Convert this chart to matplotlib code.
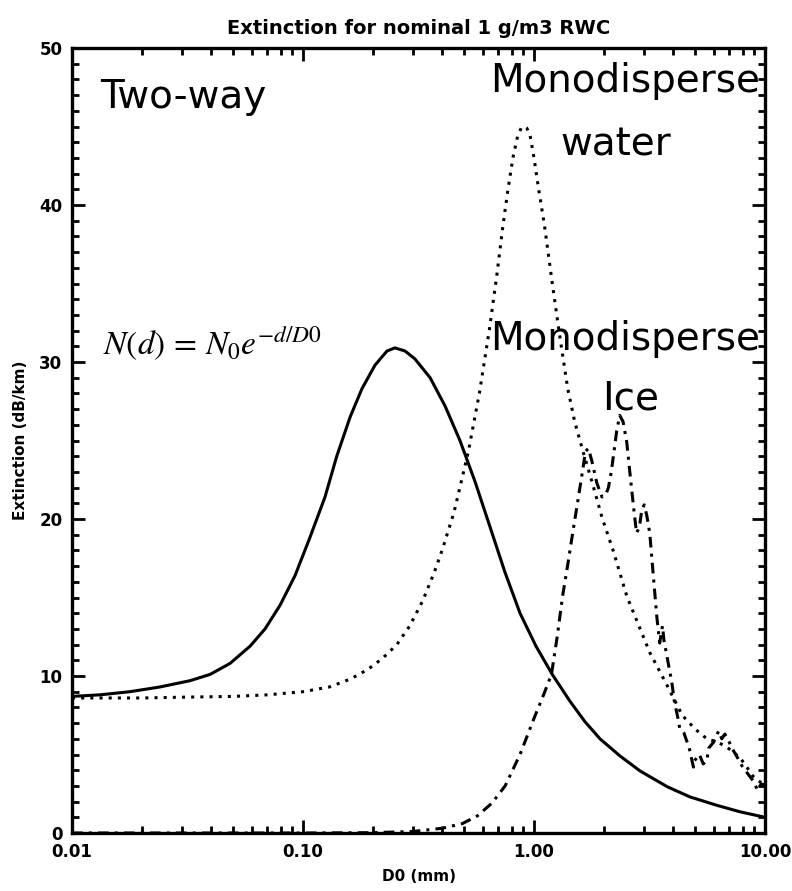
import matplotlib
matplotlib.use("Agg")
import matplotlib.pyplot as plt
from matplotlib.ticker import FixedLocator, NullFormatter, MultipleLocator

# two-way extinction for an exponential drop size distribution
d0_twoway = [0.01, 0.0132, 0.0178, 0.024, 0.0324, 0.0396, 0.0483, 0.059, 0.0685, 0.0795,
             0.0924, 0.107, 0.1245, 0.14, 0.16, 0.18, 0.205, 0.231, 0.25, 0.2765,
             0.305, 0.355, 0.412, 0.478, 0.555, 0.645, 0.749, 0.87, 1.02, 1.2,
             1.43, 1.66, 1.93, 2.36, 2.88, 3.77, 4.73, 6.2, 7.8, 10.0]
ext_twoway = [8.7, 8.8, 9.0, 9.3, 9.7, 10.1, 10.8, 11.9, 13.0, 14.5,
              16.4, 18.8, 21.4, 24.0, 26.5, 28.3, 29.8, 30.7, 30.9, 30.7,
              30.2, 29.0, 27.2, 25.0, 22.4, 19.5, 16.6, 14.0, 11.9, 10.1,
              8.4, 7.1, 6.0, 4.9, 3.95, 2.95, 2.3, 1.76, 1.35, 1.0]

# monodisperse water drops
d0_water = [0.01, 0.02, 0.03, 0.05, 0.07, 0.1, 0.13, 0.16, 0.19, 0.22,
            0.255, 0.29, 0.33, 0.37, 0.4, 0.45, 0.52, 0.58, 0.64, 0.69,
            0.734, 0.77, 0.81, 0.85, 0.88, 0.906, 0.93, 0.96, 1.0, 1.05,
            1.11, 1.2, 1.3, 1.4, 1.5, 1.63, 1.78, 1.97, 2.2, 2.52,
            2.88, 3.17, 3.5, 3.77, 4.38, 5.0, 5.6, 6.2, 6.8, 7.8,
            8.9, 9.8, 10.0]
ext_water = [8.6, 8.6, 8.65, 8.7, 8.8, 9.0, 9.3, 9.8, 10.4, 11.1,
             12.0, 13.2, 14.8, 16.6, 18.0, 20.4, 24.3, 28.0, 32.0, 35.5,
             38.7, 40.9, 43.0, 44.4, 44.9, 45.0, 44.9, 44.5, 43.0, 40.9,
             38.7, 35.0, 31.4, 28.3, 26.2, 24.3, 22.4, 20.1, 18.0, 15.1,
             13.0, 11.5, 10.3, 9.4, 7.5, 6.6, 6.0, 5.8, 5.5, 4.8,
             3.6, 3.1, 3.0]

# monodisperse ice spheres
d0_ice = [0.01, 0.1, 0.2, 0.3, 0.4, 0.49, 0.57, 0.657, 0.75, 0.87,
          1.0, 1.1, 1.19, 1.26, 1.33, 1.4, 1.47, 1.55, 1.62, 1.67,
          1.72, 1.78, 1.87, 1.97, 2.05, 2.1, 2.16, 2.22, 2.28, 2.35,
          2.43, 2.52, 2.62, 2.71, 2.78, 2.86, 2.93, 3.0, 3.08, 3.17,
          3.28, 3.4, 3.5, 3.6, 3.65, 3.78, 3.95, 4.05, 4.2, 4.27,
          4.45, 4.7, 4.9, 4.95, 5.2, 5.4, 5.6, 5.7, 6.0, 6.3,
          6.5, 6.7, 6.9, 7.2, 7.6, 8.0, 8.4, 8.9, 9.3, 9.6, 9.8, 10.0]
ext_ice = [0.0, 0.0, 0.02, 0.1, 0.3, 0.6, 1.1, 1.9, 3.0, 5.0,
           7.3, 8.8, 10.1, 12.5, 15.1, 17.1, 19.1, 21.2, 23.0, 24.3,
           24.5, 23.7, 22.3, 21.4, 21.6, 22.0, 23.0, 24.3, 25.6, 26.6,
           26.2, 24.9, 22.5, 20.5, 19.1, 19.5, 20.6, 20.9, 20.2, 19.1,
           16.5, 13.8, 12.1, 13.2, 12.3, 11.1, 9.6, 8.4, 7.3, 6.7,
           6.4, 5.4, 4.2, 4.6, 5.0, 4.4, 4.6, 5.4, 5.8, 6.5,
           6.0, 6.3, 6.0, 5.4, 4.8, 4.2, 3.8, 3.3, 2.7, 3.1, 3.1, 2.9]

x_ticks = [0.01, 0.1, 1.0, 10.0]
x_tick_labels = ["0.01", "0.10", "1.00", "10.00"]
y_ticks = [0, 10, 20, 30, 40, 50]

plt.rcParams["mathtext.fontset"] = "stix"

W, H = 792, 891
fig = plt.figure(figsize=(W / 100, H / 100), dpi=100)
ax = fig.add_axes([72 / W, 1 - 833 / H, 693 / W, 785 / H])

ax.plot(d0_twoway, ext_twoway, color="black", lw=2.2)
ax.plot(d0_water, ext_water, color="black", lw=2.2, linestyle=(0, (1, 2)))
ax.plot(d0_ice, ext_ice, color="black", lw=2.2, linestyle=(0, (3.5, 2, 1, 2)))

ax.set_xscale("log")
ax.set_xlim(0.01, 10)
ax.set_ylim(0, 50)

bold = dict(family="DejaVu Sans", weight="bold")
ax.xaxis.set_major_locator(FixedLocator(x_ticks))
ax.set_xticklabels(x_tick_labels, fontsize=12, **bold)
ax.xaxis.set_minor_locator(FixedLocator(
    [m * 10.0 ** e for e in (-2, -1, 0) for m in range(2, 10)]))
ax.xaxis.set_minor_formatter(NullFormatter())
ax.set_yticks(y_ticks)
ax.set_yticklabels([str(v) for v in y_ticks], fontsize=12, **bold)
ax.yaxis.set_minor_locator(MultipleLocator(1))

ax.tick_params(which="both", direction="in", top=True, right=True,
               color="black")
ax.tick_params(which="major", length=9.5, width=2.0, pad=7)
ax.tick_params(which="minor", length=4.8, width=2.0)
for sp in ax.spines.values():
    sp.set_linewidth(2.4)

ax.set_xlabel("D0 (mm)", fontsize=11, labelpad=6, **bold)
ax.set_ylabel("Extinction (dB/km)", fontsize=11, labelpad=8, **bold)
ax.set_title("Extinction for nominal 1 g/m3 RWC", fontsize=14, pad=10, **bold)


def label(px, py, s, **kw):
    fig.text(px / W, 1 - py / H, s, va="baseline", ha="left", **kw)


label(100, 108, "Two-way", fontsize=28)
label(490, 92, "Monodisperse", fontsize=28)
label(560, 155, "water", fontsize=28)
label(490, 350, "Monodisperse", fontsize=28)
label(602, 410, "Ice", fontsize=28)
label(103, 355, r"$N\left(d\right)\,=\,N_0 e^{-d/D0}$", fontsize=24)

fig.savefig("out.png", dpi=100)
